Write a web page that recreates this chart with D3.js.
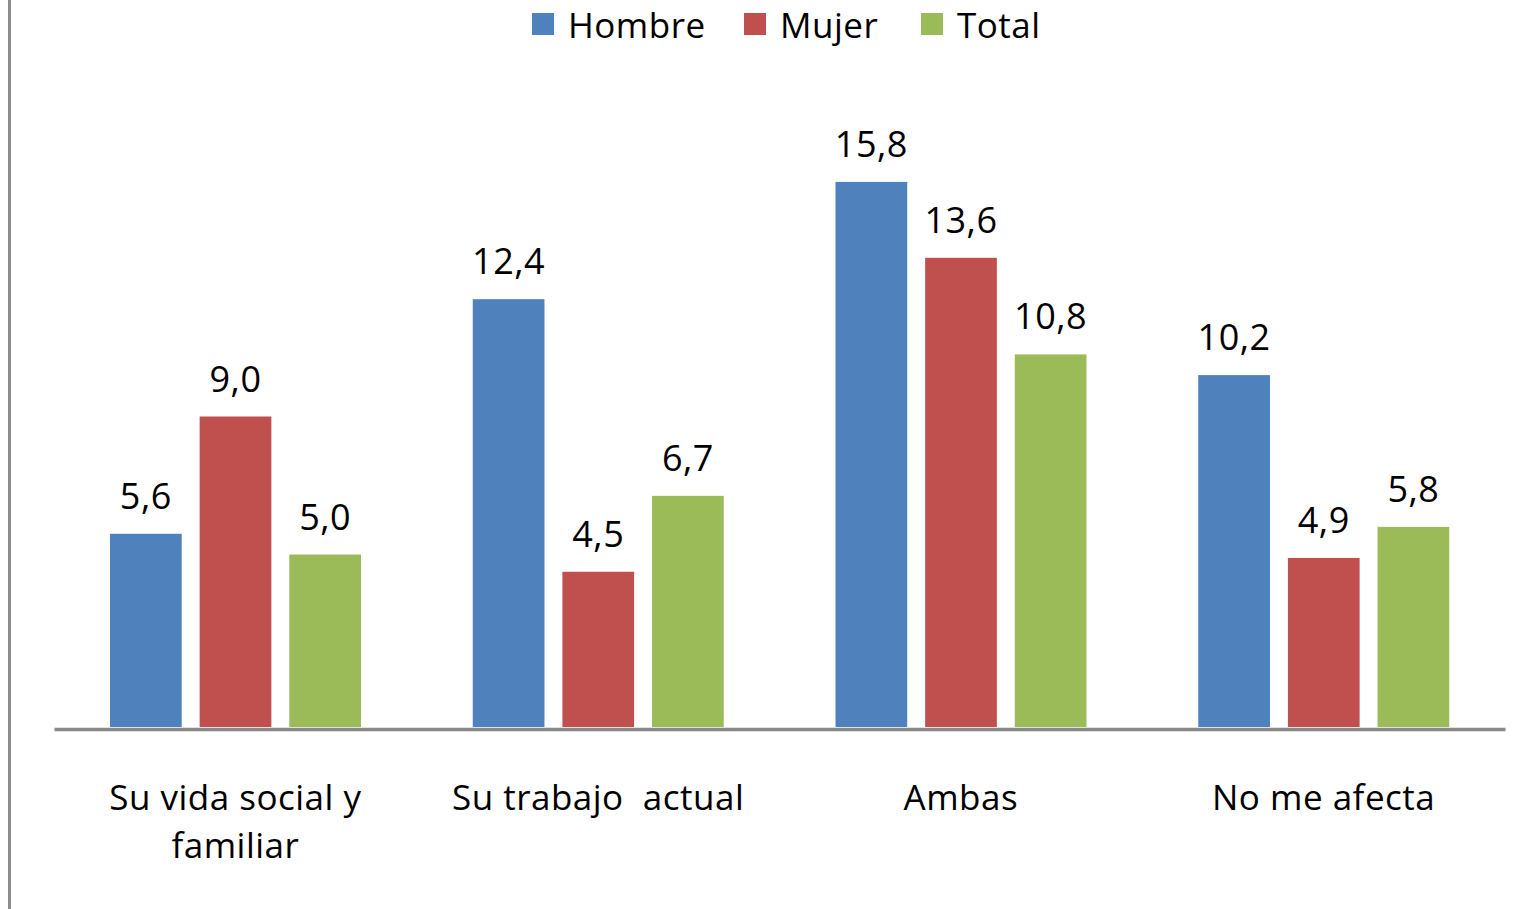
<!DOCTYPE html>
<html>
<head>
<meta charset="utf-8">
<script src="https://cdn.jsdelivr.net/npm/d3@7"></script>
<style>
  html, body { margin: 0; padding: 0; background: #fff; }
  svg { display: block; }
  text { font-family: "Open Sans", "Noto Sans", sans-serif; fill: #000; }
</style>
</head>
<body>
<svg id="chart" width="1528" height="909"></svg>
<script>
const categories = [["Su vida social y", "familiar"], ["Su trabajo  actual"], ["Ambas"], ["No me afecta"]];
const seriesNames = ["Hombre", "Mujer", "Total"];
const hombre = [5.6, 12.4, 15.8, 10.2];
const mujer = [9.0, 4.5, 13.6, 4.9];
const total = [5.0, 6.7, 10.8, 5.8];
const colors = ["#4F81BD", "#C0504D", "#9BBB59"];

const seriesValues = [hombre, mujer, total];
const svg = d3.select("#chart");
const W = 1528, H = 909;
const plotLeft = 54, plotRight = 1505, baseY = 727;

const catKeys = categories.map((c, i) => i);
const x0 = d3.scaleBand().domain(catKeys).range([plotLeft, plotRight]).paddingInner(0).paddingOuter(0);
const groupOffset = 56, groupWidth = 251;
const x1 = d3.scaleBand().domain(seriesNames).range([groupOffset, groupOffset + groupWidth]).paddingInner(0.2).paddingOuter(0);
const y = d3.scaleLinear().domain([0, 18]).range([baseY, baseY - 18 * 34.5]);

// left border
svg.append("line").attr("x1", 9.5).attr("x2", 9.5).attr("y1", 0).attr("y2", H)
  .attr("stroke", "#8c8c8c").attr("stroke-width", 3);

// bars
const groups = svg.append("g").selectAll("g").data(catKeys).join("g")
  .attr("transform", d => `translate(${x0(d)},0)`);

groups.selectAll("rect").data(ci => seriesNames.map((s, si) => ({s, si, v: seriesValues[si][ci]})))
  .join("rect")
  .attr("x", d => x1(d.s))
  .attr("width", x1.bandwidth())
  .attr("y", d => y(d.v))
  .attr("height", d => y(0) - y(d.v))
  .attr("fill", d => colors[d.si]);

const fmt = v => d3.format(".1f")(v).replace(".", ",");
groups.selectAll("text.val").data(ci => seriesNames.map((s, si) => ({s, si, v: seriesValues[si][ci]})))
  .join("text").attr("class", "val")
  .attr("x", d => x1(d.s) + x1.bandwidth() / 2)
  .attr("y", d => y(d.v) - 25)
  .attr("text-anchor", "middle")
  .attr("font-size", 36)
  .attr("letter-spacing", 0.5)
  .text(d => fmt(d.v));

// x axis line
const xAxis = d3.axisBottom(x0).tickSize(0).tickFormat("");
const axG = svg.append("g").attr("transform", `translate(0,${baseY + 2})`).call(xAxis);
axG.select(".domain").attr("stroke", "#898989").attr("stroke-width", 3.5);

// category labels
categories.forEach((lines, i) => {
  const t = svg.append("text")
    .attr("x", x0(i) + x0.bandwidth() / 2)
    .attr("y", 810)
    .attr("text-anchor", "middle")
    .attr("font-size", 35)
    .attr("letter-spacing", 0.5)
    .attr("xml:space", "preserve")
    .style("white-space", "pre");
  lines.forEach((ln, j) => {
    t.append("tspan").attr("x", x0(i) + x0.bandwidth() / 2).attr("dy", j === 0 ? 0 : 48).text(ln);
  });
});

// legend
const legendX = [532, 744, 921];
const leg = svg.append("g");
seriesNames.forEach((s, i) => {
  leg.append("rect").attr("x", legendX[i]).attr("y", 13).attr("width", 22).attr("height", 22).attr("fill", colors[i]);
  leg.append("text").attr("x", legendX[i] + 36).attr("y", 38).attr("font-size", 35).attr("letter-spacing", 0.5).text(s);
});
</script>
</body>
</html>
